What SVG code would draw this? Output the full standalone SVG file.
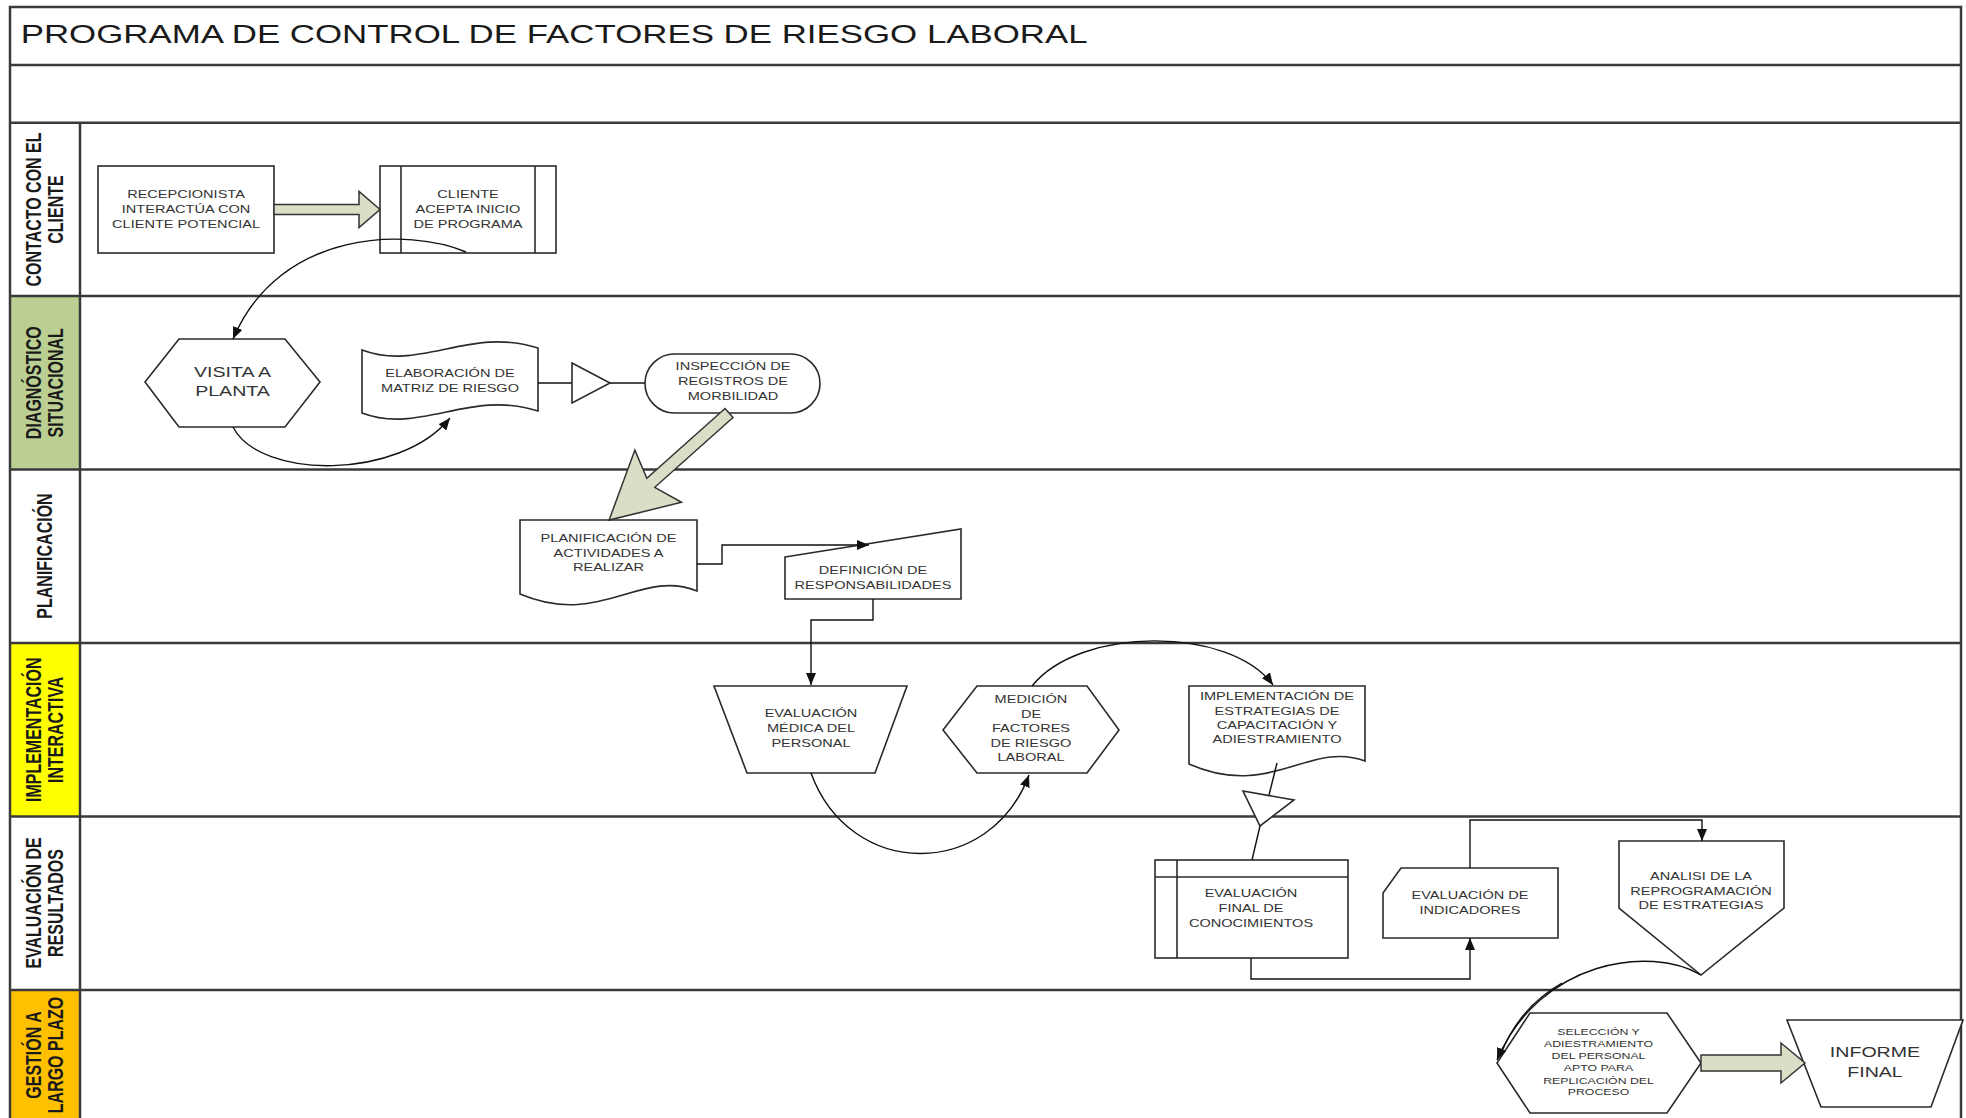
<svg xmlns="http://www.w3.org/2000/svg" width="1966" height="1118" viewBox="0 0 1966 1118">
<defs>
<style>
.frame{fill:none;stroke:#3a3a3a;stroke-width:2.5}
.node{fill:#fff;stroke:#2a2a2a;stroke-width:1.6}
.t{font-family:"Liberation Sans",Arial,sans-serif;font-size:10.4px;fill:#333;text-anchor:middle}
.big{font-size:14px}
.small{font-size:8.8px}
.lbl{font-family:"Liberation Sans",Arial,sans-serif;font-weight:bold;font-size:16px;fill:#1a1a1a;text-anchor:middle}
.title{font-family:"Liberation Sans",Arial,sans-serif;font-size:24.9px;fill:#1a1a1a}
.conn{fill:none;stroke:#111;stroke-width:1.4}
.block{fill:#d9dfc7;stroke:#333;stroke-width:1.5}
</style>
<marker id="ah" viewBox="0 0 12 10" refX="12" refY="5" markerWidth="12" markerHeight="10" markerUnits="userSpaceOnUse" orient="auto">
<path d="M0,0 L12,5 L0,10 z" fill="#111"/>
</marker>
</defs>
<rect x="0" y="0" width="1966" height="1118" fill="#fff"/>

<g id="lanes">
<rect x="10" y="296" width="70" height="173.5" fill="#bccf93"/>
<rect x="10" y="643" width="70" height="173.5" fill="#ffff00"/>
<rect x="10" y="990" width="70" height="140" fill="#ffc000"/>
<rect class="frame" x="10" y="7" width="1951" height="1130"/>
<line class="frame" x1="10" y1="65" x2="1961" y2="65"/>
<line class="frame" x1="10" y1="122.7" x2="1961" y2="122.7"/>
<line class="frame" x1="10" y1="296" x2="1961" y2="296"/>
<line class="frame" x1="10" y1="469.5" x2="1961" y2="469.5"/>
<line class="frame" x1="10" y1="643" x2="1961" y2="643"/>
<line class="frame" x1="10" y1="816.5" x2="1961" y2="816.5"/>
<line class="frame" x1="10" y1="990" x2="1961" y2="990"/>
<line class="frame" x1="80" y1="122.7" x2="80" y2="1130"/>
<text class="title" transform="translate(20.7 0) scale(1.4 1)" x="0" y="43">PROGRAMA DE CONTROL DE FACTORES DE RIESGO LABORAL</text>
<text class="lbl" transform="translate(44 209.5) scale(1.4 1) rotate(-90)"><tspan x="0" y="-2.4">CONTACTO CON EL</tspan><tspan x="0" y="13.6">CLIENTE</tspan></text>
<text class="lbl" transform="translate(44 382.75) scale(1.4 1) rotate(-90)"><tspan x="0" y="-2.4">DIAGNÓSTICO</tspan><tspan x="0" y="13.6">SITUACIONAL</tspan></text>
<text class="lbl" transform="translate(44 556) scale(1.4 1) rotate(-90)"><tspan x="0" y="5.7">PLANIFICACIÓN</tspan></text>
<text class="lbl" transform="translate(44 729.75) scale(1.4 1) rotate(-90)"><tspan x="0" y="-2.4">IMPLEMENTACIÓN</tspan><tspan x="0" y="13.6">INTERACTIVA</tspan></text>
<text class="lbl" transform="translate(44 903) scale(1.4 1) rotate(-90)"><tspan x="0" y="-2.4">EVALUACIÓN DE</tspan><tspan x="0" y="13.6">RESULTADOS</tspan></text>
<text class="lbl" transform="translate(44 1055) scale(1.4 1) rotate(-90)"><tspan x="0" y="-2.4">GESTIÓN A</tspan><tspan x="0" y="13.6">LARGO PLAZO</tspan></text>
</g>

<g id="n-recepcionista">
<rect class="node" x="98" y="166" width="176" height="87"/>
<text class="t" transform="translate(186 0) scale(1.4 1)"><tspan x="0" y="198">RECEPCIONISTA</tspan><tspan x="0" y="213">INTERACTÚA CON</tspan><tspan x="0" y="228">CLIENTE POTENCIAL</tspan></text>
</g>
<g id="n-cliente">
<rect class="node" x="380" y="166" width="176" height="87"/>
<line class="node" x1="401" y1="166" x2="401" y2="253"/>
<line class="node" x1="535" y1="166" x2="535" y2="253"/>
<text class="t" transform="translate(468 0) scale(1.4 1)"><tspan x="0" y="198">CLIENTE</tspan><tspan x="0" y="213">ACEPTA INICIO</tspan><tspan x="0" y="228">DE PROGRAMA</tspan></text>
</g>
<g id="n-visita">
<polygon class="node" points="145,382 179,339 285,339 320,382 285,427 179,427"/>
<text class="t big" transform="translate(232.5 0) scale(1.4 1)"><tspan x="0" y="377">VISITA A</tspan><tspan x="0" y="396">PLANTA</tspan></text>
</g>
<g id="n-elaboracion">
<path class="node" d="M362,350 C420,372 470,326 538,348 L538,411 C470,389 420,435 362,413 Z"/>
<text class="t" transform="translate(450 0) scale(1.4 1)"><tspan x="0" y="377">ELABORACIÓN DE</tspan><tspan x="0" y="392">MATRIZ DE RIESGO</tspan></text>
</g>
<g id="n-inspeccion">
<rect class="node" x="645" y="354" width="175" height="59" rx="29.5" ry="29.5"/>
<text class="t" transform="translate(733 0) scale(1.4 1)"><tspan x="0" y="370">INSPECCIÓN DE</tspan><tspan x="0" y="385">REGISTROS DE</tspan><tspan x="0" y="400">MORBILIDAD</tspan></text>
</g>
<g id="n-planificacion">
<path class="node" d="M520,520 H697 V591 C640,568 600,628 520,594 Z"/>
<text class="t" transform="translate(608.5 0) scale(1.4 1)"><tspan x="0" y="542">PLANIFICACIÓN DE</tspan><tspan x="0" y="557">ACTIVIDADES A</tspan><tspan x="0" y="571">REALIZAR</tspan></text>
</g>
<g id="n-definicion">
<polygon class="node" points="785,557 961,529 961,599 785,599"/>
<text class="t" transform="translate(873 0) scale(1.4 1)"><tspan x="0" y="574">DEFINICIÓN DE</tspan><tspan x="0" y="589">RESPONSABILIDADES</tspan></text>
</g>
<g id="n-evaluacion-medica">
<polygon class="node" points="714,686 907,686 875,773 747,773"/>
<text class="t" transform="translate(811 0) scale(1.4 1)"><tspan x="0" y="717">EVALUACIÓN</tspan><tspan x="0" y="732">MÉDICA DEL</tspan><tspan x="0" y="747">PERSONAL</tspan></text>
</g>
<g id="n-medicion">
<polygon class="node" points="943,730 977,686 1087,686 1119,730 1087,773 977,773"/>
<text class="t" transform="translate(1031 0) scale(1.4 1)"><tspan x="0" y="703">MEDICIÓN</tspan><tspan x="0" y="718">DE</tspan><tspan x="0" y="732">FACTORES</tspan><tspan x="0" y="747">DE RIESGO</tspan><tspan x="0" y="761">LABORAL</tspan></text>
</g>
<g id="n-implementacion">
<path class="node" d="M1189,686 H1365 V761 C1310,740 1270,800 1189,764 Z"/>
<text class="t" transform="translate(1277 0) scale(1.4 1)"><tspan x="0" y="700">IMPLEMENTACIÓN DE</tspan><tspan x="0" y="715">ESTRATEGIAS DE</tspan><tspan x="0" y="729">CAPACITACIÓN Y</tspan><tspan x="0" y="743">ADIESTRAMIENTO</tspan></text>
</g>
<g id="n-evaluacion-final">
<rect class="node" x="1155" y="860" width="193" height="98"/>
<line class="node" x1="1177" y1="860" x2="1177" y2="958"/>
<line class="node" x1="1155" y1="877" x2="1348" y2="877"/>
<text class="t" transform="translate(1251 0) scale(1.4 1)"><tspan x="0" y="897">EVALUACIÓN</tspan><tspan x="0" y="912">FINAL DE</tspan><tspan x="0" y="927">CONOCIMIENTOS</tspan></text>
</g>
<g id="n-indicadores">
<polygon class="node" points="1401,868 1558,868 1558,938 1383,938 1383,893"/>
<text class="t" transform="translate(1470 0) scale(1.4 1)"><tspan x="0" y="899">EVALUACIÓN DE</tspan><tspan x="0" y="914">INDICADORES</tspan></text>
</g>
<g id="n-analisi">
<polygon class="node" points="1619,841 1784,841 1784,908 1701,975 1619,908"/>
<text class="t" transform="translate(1701 0) scale(1.4 1)"><tspan x="0" y="880">ANALISI DE LA</tspan><tspan x="0" y="895">REPROGRAMACIÓN</tspan><tspan x="0" y="909">DE ESTRATEGIAS</tspan></text>
</g>
<g id="n-seleccion">
<polygon class="node" points="1497,1063 1530,1013 1667,1013 1701,1063 1667,1113 1530,1113"/>
<text class="t small" transform="translate(1598.5 0) scale(1.4 1)"><tspan x="0" y="1035">SELECCIÓN Y</tspan><tspan x="0" y="1047">ADIESTRAMIENTO</tspan><tspan x="0" y="1059">DEL PERSONAL</tspan><tspan x="0" y="1071">APTO PARA</tspan><tspan x="0" y="1084">REPLICACIÓN DEL</tspan><tspan x="0" y="1095">PROCESO</tspan></text>
</g>
<g id="n-informe">
<polygon class="node" points="1787,1020 1963,1020 1931,1107 1821,1107"/>
<text class="t big" transform="translate(1875 0) scale(1.4 1)"><tspan x="0" y="1057">INFORME</tspan><tspan x="0" y="1077">FINAL</tspan></text>
</g>

<g id="connectors">
<path class="block" d="M274,204.5 H359 V191.5 L380,209.5 L359,227.5 V214.5 H274 Z"/>
<path class="conn" marker-end="url(#ah)" d="M466,252 C410,228 280,228 233,339"/>
<path class="conn" marker-end="url(#ah)" d="M233,427 C260,480 400,480 450,418"/>
<path class="conn" d="M538,383 H572"/>
<path class="conn" d="M610,383 H645"/>
<polygon class="node" points="572,363 610,383 572,403"/>
<polygon class="block" points="733,417.5 654.8,487.3 681.5,502.3 609.1,520.1 634.9,450.1 646.8,478.3 725,408.5"/>
<path class="conn" marker-end="url(#ah)" d="M697,564 H722 V545 H869"/>
<path class="conn" marker-end="url(#ah)" d="M873,599 V620 H811 V685"/>
<path class="conn" marker-end="url(#ah)" d="M811,773 C850,880 990,880 1029,775"/>
<path class="conn" marker-end="url(#ah)" d="M1032,686 C1080,626 1230,626 1273,685"/>
<path class="conn" d="M1277,763 L1269,795"/>
<polygon class="node" points="1243,791 1294,800 1260,826"/>
<path class="conn" d="M1260,826 L1252,860"/>
<path class="conn" marker-end="url(#ah)" d="M1251,958 V979 H1470 V938"/>
<path class="conn" marker-end="url(#ah)" d="M1470,868 V820 H1702 V841"/>
<path class="conn" marker-end="url(#ah)" d="M1701,975 C1650,945 1540,960 1497,1060"/>
<path class="conn" d="M1562,983 C1532,1000 1512,1025 1500,1056"/>
<path class="block" d="M1701,1055 H1781 V1043 L1805,1063 L1781,1083 V1071 H1701 Z"/>
</g>
</svg>
